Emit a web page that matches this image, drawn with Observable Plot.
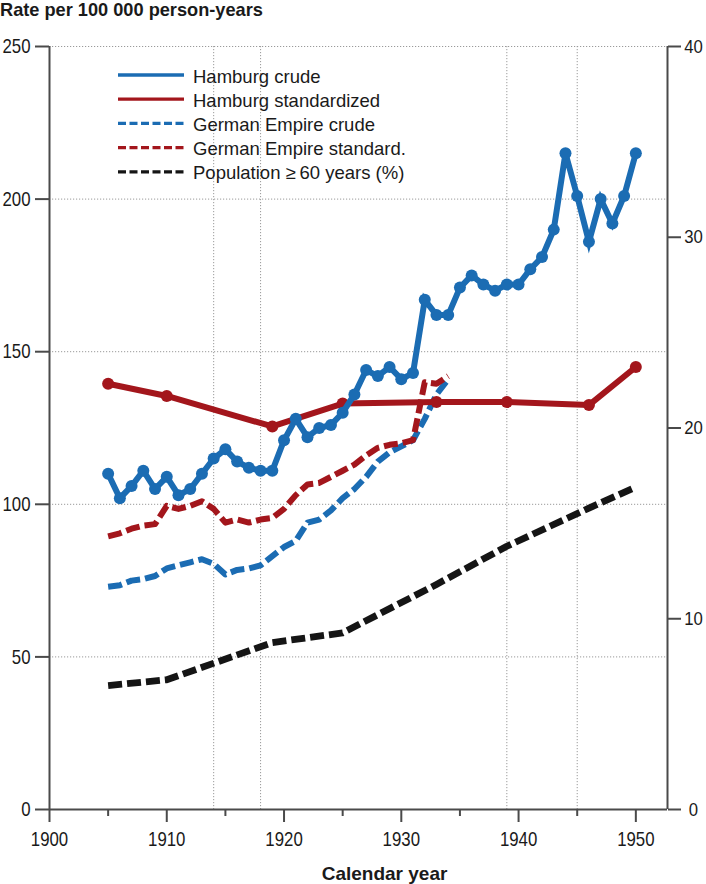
<!DOCTYPE html>
<html>
<head>
<meta charset="utf-8">
<script src="https://cdn.jsdelivr.net/npm/d3@7"></script>
<script src="https://cdn.jsdelivr.net/npm/@observablehq/plot@0.6"></script>
<style>
  body { margin: 0; background: #fff; }
  #wrap { position: relative; width: 706px; height: 884px; overflow: hidden; }
  #title { height: 30px; font: bold 18.2px "Liberation Sans", Arial, sans-serif; line-height: 20px; color: #1a1a1a; white-space: nowrap; }
  #legend { position: absolute; left: 0; top: 0; pointer-events: none; }
</style>
</head>
<body>
<div id="wrap">
  <div id="title">Rate per 100 000 person-years</div>
  <div id="chart"></div>
  <svg id="legend" width="706" height="200"></svg>
</div>
<script>
// ---------- data ----------
const hhCrudeYears = d3.range(1905, 1951);
const hhCrude = [110,102,106,111,105,109,103,105,110,115,118,114,112,111,111,121,128,122,125,126,
                 130,136,144,142,145,141,143,167,162,162,171,175,172,170,172,172,177,181,190,215,
                 201,186,200,192,201,215];
const hhStdYears = [1905,1910,1919,1925,1933,1939,1946,1950];
const hhStd = [139.5,135.5,125.5,133,133.5,133.5,132.5,145];
const geYears = d3.range(1905, 1935);
const geCrude = [73,73.5,75,75.5,76.5,79,80,81,82,80.5,77,78.5,79,80,83,86,88,94,95,98,
                 102,105,109,114,117,119,121,128,136,141];
const geStd = [89.5,90.5,92,93,93.5,99.5,98.5,99.5,101,98.5,94,95,94,95,95.5,98.5,103,106.5,107,109,
               111,113,116,118.5,119.5,120,121,140,139.5,142];
const popYears = [1905,1910,1919,1925,1933,1939,1946,1950];
const popShare = [6.5,6.8,8.75,9.26,11.8,13.8,15.8,16.9];

const leftTicks = [0,50,100,150,200,250];
const rightTicks = [0,10,20,30,40];
const xTicks = [1900,1910,1920,1930,1940,1950];
const xMinorTicks = [1905,1915,1925,1935,1945];
const warYears = [1914,1918,1939,1945];
const gridValues = [50,100,150,200,250];
const xDomain = [1900, 1952.7];
const yDomain = [0, 250];
const rightMax = 40;
const legendLabels = ["Hamburg crude","Hamburg standardized","German Empire crude","German Empire standard.","Population \u2265\u200960 years (%)"];

// ---------- styles ----------
const blue = "#1b6cb3", red = "#a3161c", black = "#151515";
const axisColor = "#4a4a4a", gridColor = "#9a9a9a";
const tickFont = '"Liberation Sans", Arial, sans-serif';
const toRight = v => v * yDomain[1] / rightMax;

const zip = (xs, ys) => xs.map((x, i) => ({x, y: ys[i]}));
const hhCrudeData = zip(hhCrudeYears, hhCrude);
const hhStdData = zip(hhStdYears, hhStd);
const geCrudeData = zip(geYears, geCrude);
const geStdData = zip(geYears, geStd);
const popData = zip(popYears, popShare);

const dashed = {strokeWidth: 6, strokeDasharray: "14,5", strokeLinecap: "butt", strokeLinejoin: "round"};

const chart = Plot.plot({
  width: 706,
  height: 854,
  marginTop: 16,
  marginBottom: 75,
  marginLeft: 49,
  marginRight: 39,
  style: {fontFamily: tickFont, fontSize: "21px", color: "#1a1a1a", background: "transparent"},
  x: {domain: xDomain},
  y: {domain: yDomain},
  marks: [
    Plot.ruleY(gridValues, {stroke: gridColor, strokeWidth: 1, strokeDasharray: "1.2,1.8"}),
    Plot.ruleX(warYears, {stroke: gridColor, strokeWidth: 1, strokeDasharray: "1.2,1.8"}),
    Plot.line(popData, {x: "x", y: d => toRight(d.y), stroke: black, ...dashed, strokeWidth: 6.8}),
    Plot.line(geCrudeData, {x: "x", y: "y", stroke: blue, ...dashed}),
    Plot.line(geStdData, {x: "x", y: "y", stroke: red, ...dashed}),
    Plot.line(hhStdData, {x: "x", y: "y", stroke: red, strokeWidth: 6}),
    Plot.dot(hhStdData, {x: "x", y: "y", r: 6, fill: red}),
    Plot.line(hhCrudeData, {x: "x", y: "y", stroke: blue, strokeWidth: 6, strokeLinejoin: "miter", strokeMiterlimit: 4}),
    Plot.dot(hhCrudeData, {x: "x", y: "y", r: 6, fill: blue}),
    Plot.ruleX(xDomain, {stroke: axisColor, strokeWidth: 2}),
    Plot.ruleY([0], {stroke: axisColor, strokeWidth: 2}),
    Plot.axisY(leftTicks, {anchor: "left", tickSize: 14, tickPadding: 5, stroke: axisColor, strokeWidth: 2, label: null, fontSize: 21}),
    Plot.axisY(rightTicks.map(toRight), {anchor: "right", tickSize: 13, tickPadding: 13, textAnchor: "middle", tickFormat: d => d * rightMax / yDomain[1], stroke: axisColor, strokeWidth: 2, label: null, fontSize: 19}),
    Plot.axisX(xTicks, {tickSize: 13, tickPadding: 9, tickFormat: d => String(d), stroke: axisColor, strokeWidth: 2, label: null, fontSize: 21}),
    Plot.axisX(xMinorTicks, {tickSize: 7, text: null, stroke: axisColor, strokeWidth: 2, label: null}),
    Plot.text(["Calendar year"], {text: d => d, frameAnchor: "bottom", dy: 70, dx: 26, lineAnchor: "bottom", fontWeight: "bold", fontSize: 19, fontFamily: '"Liberation Sans", Arial, sans-serif', fill: "#1a1a1a"})
  ]
});
document.getElementById("chart").appendChild(chart);

// condense tick labels (narrow face in the original)
d3.select(chart).selectAll('g[aria-label$="tick label"] text').each(function() {
  const len = this.getComputedTextLength();
  const right = +this.getAttribute("font-size") === 19 || this.closest('g[aria-label$="tick label"]').getAttribute("font-size") === "19";
  if (len > 0) {
    this.setAttribute("textLength", (len * (right ? 0.88 : 0.8)).toFixed(2));
    this.setAttribute("lengthAdjust", "spacingAndGlyphs");
  }
});

// ---------- legend ----------
const legendStyles = [
  {stroke: blue, dash: null},
  {stroke: red, dash: null},
  {stroke: blue, dash: "8,3.5"},
  {stroke: red, dash: "8,3.5"},
  {stroke: black, dash: "8,3.5"}
];
const lg = d3.select("#legend");
const rowY = i => 75 + i * 24.2;
legendLabels.forEach((label, i) => {
  const s = legendStyles[i];
  lg.append("line").attr("x1", 118).attr("x2", 184).attr("y1", rowY(i)).attr("y2", rowY(i))
    .attr("stroke", s.stroke).attr("stroke-width", 3.3).attr("stroke-dasharray", s.dash);
  lg.append("text").attr("x", 193).attr("y", rowY(i) + 1).attr("dominant-baseline", "central")
    .attr("font-family", '"Liberation Sans", Arial, sans-serif').attr("font-size", 18.5).attr("fill", "#1a1a1a")
    .text(label);
});
</script>
</body>
</html>
